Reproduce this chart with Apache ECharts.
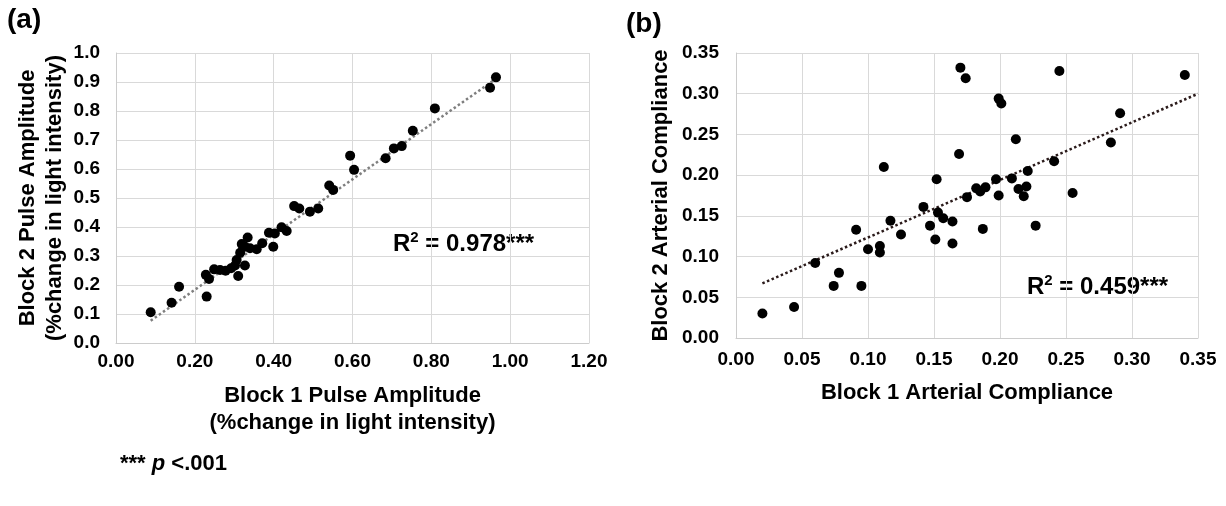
<!DOCTYPE html>
<html>
<head>
<meta charset="utf-8">
<script src="https://cdn.jsdelivr.net/npm/echarts@6/dist/echarts.min.js"></script>
<style>
html, body { margin: 0; padding: 0; background: #fff; }
#chart { width: 1226px; height: 506px; }
</style>
</head>
<body>
<div id="chart"></div>
<script>
// (a) pulse amplitude, block 1 (x) vs block 2 (y)
var pulseBlock1 = [0.088, 0.141, 0.160, 0.230, 0.228, 0.236, 0.249, 0.264, 0.278, 0.292,
  0.302, 0.310, 0.306, 0.327, 0.315, 0.319, 0.334, 0.327, 0.340, 0.357,
  0.371, 0.388, 0.399, 0.403, 0.420, 0.433, 0.452, 0.465, 0.492, 0.513,
  0.541, 0.551, 0.594, 0.604, 0.684, 0.705, 0.725, 0.753, 0.809, 0.949, 0.964];
var pulseBlock2 = [0.106, 0.139, 0.194, 0.160, 0.235, 0.221, 0.254, 0.252, 0.249, 0.258,
  0.267, 0.231, 0.286, 0.267, 0.311, 0.341, 0.364, 0.332, 0.327, 0.323,
  0.344, 0.380, 0.332, 0.378, 0.399, 0.386, 0.472, 0.464, 0.453, 0.464,
  0.543, 0.528, 0.646, 0.597, 0.637, 0.671, 0.679, 0.732, 0.809, 0.880, 0.916];
var pulseTrendX = [0.088, 0.964];
var pulseTrendY = [0.077, 0.911];

// (b) arterial compliance, block 1 (x) vs block 2 (y)
var compBlock1 = [0.020, 0.044, 0.060, 0.074, 0.078, 0.091, 0.095, 0.100, 0.109, 0.109,
  0.112, 0.117, 0.125, 0.142, 0.147, 0.151, 0.152, 0.153, 0.157, 0.164,
  0.164, 0.169, 0.170, 0.174, 0.175, 0.182, 0.185, 0.187, 0.189, 0.197,
  0.199, 0.199, 0.201, 0.209, 0.212, 0.214, 0.218, 0.220, 0.221, 0.227,
  0.241, 0.245, 0.255, 0.284, 0.291, 0.340];
var compBlock2 = [0.030, 0.038, 0.092, 0.064, 0.080, 0.133, 0.064, 0.109, 0.113, 0.105,
  0.210, 0.144, 0.127, 0.161, 0.138, 0.121, 0.195, 0.154, 0.147, 0.143,
  0.116, 0.226, 0.332, 0.319, 0.173, 0.184, 0.180, 0.134, 0.185, 0.195,
  0.175, 0.294, 0.288, 0.196, 0.244, 0.183, 0.174, 0.186, 0.205, 0.138,
  0.217, 0.328, 0.178, 0.240, 0.276, 0.323];
var compTrendX = [0.020, 0.350];
var compTrendY = [0.067, 0.300];

var FONT = '"Liberation Sans", Arial, sans-serif';

function pairs(xs, ys) {
  return xs.map(function (x, i) { return [x, ys[i]]; });
}

function valueAxis(idx, min, max, step, digits, extra) {
  var ax = {
    type: 'value',
    gridIndex: idx,
    min: min,
    max: max,
    interval: step,
    axisTick: { show: false },
    axisLine: { show: true, lineStyle: { color: '#cccccc', width: 1 } },
    splitLine: { show: true, lineStyle: { color: '#d9d9d9', width: 1 } },
    axisLabel: {
      color: '#000',
      fontFamily: FONT,
      fontWeight: 'bold',
      fontSize: 19,
      formatter: function (v) { return v.toFixed(digits); }
    },
    nameLocation: 'middle',
    nameTextStyle: {
      color: '#000',
      fontFamily: FONT,
      fontWeight: 'bold',
      fontSize: 22,
      lineHeight: 27
    }
  };
  for (var k in extra) {
    if (k === 'axisLabel' || k === 'nameTextStyle') {
      Object.assign(ax[k], extra[k]);
    } else {
      ax[k] = extra[k];
    }
  }
  return ax;
}

var chart = echarts.init(document.getElementById('chart'));

var option = {
  backgroundColor: '#fff',
  animation: false,
  grid: [
    { left: 116, right: 637, top: 53, bottom: 163 },
    { left: 736, right: 28, top: 53, bottom: 168 }
  ],
  xAxis: [
    valueAxis(0, 0, 1.2, 0.2, 2, {
      name: 'Block 1 Pulse Amplitude\n(%change in light intensity)',
      nameGap: 39,
      axisLabel: { margin: 9 }
    }),
    valueAxis(1, 0, 0.35, 0.05, 2, {
      name: 'Block 1 Arterial Compliance',
      nameGap: 41,
      axisLabel: { margin: 12 }
    })
  ],
  yAxis: [
    valueAxis(0, 0, 1, 0.1, 1, {
      name: 'Block 2 Pulse Amplitude\n(%change in light intensity)',
      nameGap: 48,
      axisLabel: { margin: 16 }
    }),
    valueAxis(1, 0, 0.35, 0.05, 2, {
      name: 'Block 2 Arterial Compliance',
      nameGap: 62,
      axisLabel: { margin: 17 }
    })
  ],
  series: [
    {
      type: 'line',
      xAxisIndex: 0,
      yAxisIndex: 0,
      data: pairs(pulseTrendX, pulseTrendY),
      symbol: 'none',
      lineStyle: { color: '#7f7f7f', width: 2.5, type: [2.5, 2.5] },
      z: 1
    },
    {
      type: 'scatter',
      xAxisIndex: 0,
      yAxisIndex: 0,
      data: pairs(pulseBlock1, pulseBlock2),
      symbolSize: 10,
      itemStyle: { color: '#000', opacity: 1 },
      z: 2
    },
    {
      type: 'line',
      xAxisIndex: 1,
      yAxisIndex: 1,
      data: pairs(compTrendX, compTrendY),
      symbol: 'none',
      lineStyle: { color: '#2b1b1b', width: 2.5, type: [2.5, 2.5] },
      z: 1
    },
    {
      type: 'scatter',
      xAxisIndex: 1,
      yAxisIndex: 1,
      data: pairs(compBlock1, compBlock2),
      symbolSize: 10,
      itemStyle: { color: '#000', opacity: 1 },
      z: 2
    }
  ],
  graphic: [
    { type: 'text', left: 7, top: 6, style: { text: '(a)', font: 'bold 28px ' + FONT, fill: '#000' } },
    { type: 'text', left: 626, top: 10, style: { text: '(b)', font: 'bold 28px ' + FONT, fill: '#000' } },
    {
      type: 'text', left: 393, top: 230,
      style: {
        text: '{m|R}{s|2}{m| = 0.978***}',
        fill: '#000',
        rich: {
          m: { fontFamily: FONT, fontWeight: 'bold', fontSize: 24, lineHeight: 28 },
          s: { fontFamily: FONT, fontWeight: 'bold', fontSize: 15, verticalAlign: 'top', lineHeight: 18 }
        }
      }
    },
    {
      type: 'text', left: 1027, top: 273,
      style: {
        text: '{m|R}{s|2}{m| = 0.459***}',
        fill: '#000',
        rich: {
          m: { fontFamily: FONT, fontWeight: 'bold', fontSize: 24, lineHeight: 28 },
          s: { fontFamily: FONT, fontWeight: 'bold', fontSize: 15, verticalAlign: 'top', lineHeight: 18 }
        }
      }
    },
    {
      type: 'text', left: 120, top: 453,
      style: {
        text: '{n|*** }{i|p}{n| <.001}',
        fill: '#000',
        rich: {
          n: { fontFamily: FONT, fontWeight: 'bold', fontSize: 22 },
          i: { fontFamily: FONT, fontWeight: 'bold', fontStyle: 'italic', fontSize: 22 }
        }
      }
    }
  ]
};

chart.setOption(option);
</script>
</body>
</html>
